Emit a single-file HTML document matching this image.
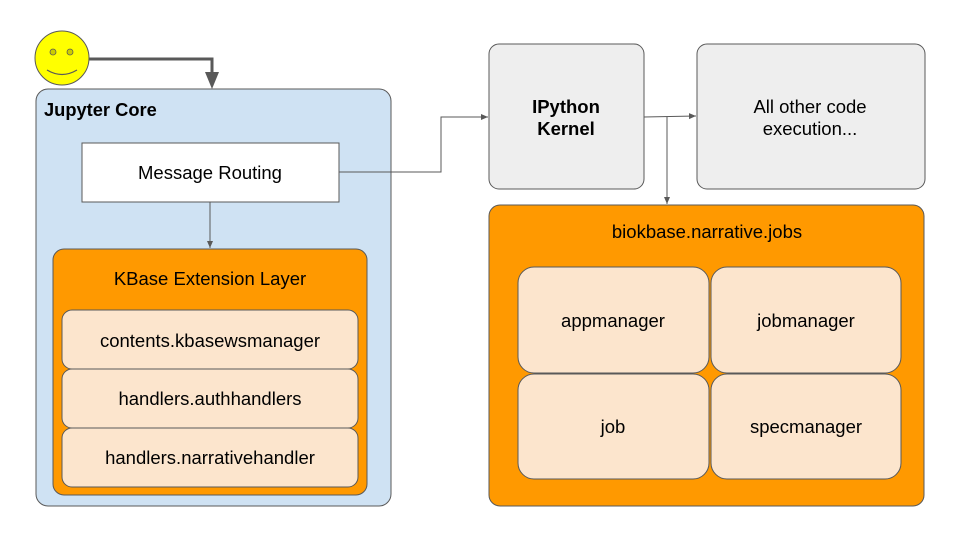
<!DOCTYPE html>
<html><head><meta charset="utf-8"><style>html,body{margin:0;padding:0;background:#fff}svg{display:block}</style></head>
<body>
<svg width="960" height="540" viewBox="0 0 960 540" xmlns="http://www.w3.org/2000/svg" font-family="Liberation Sans, Arial, sans-serif">
<defs>
<marker id="a" markerWidth="8" markerHeight="8" refX="7" refY="4" orient="auto" markerUnits="userSpaceOnUse"><path d="M0,1 L7,4 L0,7 z" fill="#595959"/></marker>
</defs>
<rect x="36" y="89" width="355" height="417" rx="12" fill="#cfe2f3" stroke="#595959"/>
<text x="44" y="116" font-size="18.3" font-weight="bold" fill="#000">Jupyter Core</text>
<rect x="82" y="143" width="257" height="59" fill="#fff" stroke="#595959"/>
<text x="210" y="179" font-size="18.5" text-anchor="middle">Message Routing</text>
<line x1="210" y1="202" x2="210" y2="248" stroke="#595959" marker-end="url(#a)"/>
<rect x="53" y="249" width="314" height="246" rx="11" fill="#ff9900" stroke="#595959"/>
<text x="210" y="285" font-size="18.5" text-anchor="middle">KBase Extension Layer</text>
<rect x="62" y="310" width="296" height="59" rx="10" fill="#fce5cd" stroke="#595959"/>
<text x="210" y="347" font-size="18.5" text-anchor="middle">contents.kbasewsmanager</text>
<rect x="62" y="369" width="296" height="59" rx="10" fill="#fce5cd" stroke="#595959"/>
<text x="210" y="405" font-size="18.5" text-anchor="middle">handlers.authhandlers</text>
<rect x="62" y="428" width="296" height="59" rx="10" fill="#fce5cd" stroke="#595959"/>
<text x="210" y="464" font-size="18.5" text-anchor="middle">handlers.narrativehandler</text>
<polyline points="88,59 212,59 212,74" fill="none" stroke="#595959" stroke-width="3"/>
<path d="M205,72 L219,72 L212,89 z" fill="#595959"/>
<circle cx="62" cy="58" r="27" fill="#ffff00" stroke="#595959"/>
<circle cx="53" cy="52" r="3" fill="#cccc00" stroke="#595959" stroke-width="0.8"/>
<circle cx="70" cy="52" r="3" fill="#cccc00" stroke="#595959" stroke-width="0.8"/>
<path d="M47,70 Q62,79 77,70" fill="none" stroke="#595959" stroke-width="1.2"/>
<polyline points="339,172 441,172 441,117 488,117" fill="none" stroke="#595959" marker-end="url(#a)"/>
<line x1="644" y1="117" x2="696" y2="116" stroke="#595959" marker-end="url(#a)"/>
<line x1="667" y1="117" x2="667" y2="204" stroke="#595959" marker-end="url(#a)"/>
<rect x="489" y="44" width="155" height="145" rx="10" fill="#eeeeee" stroke="#595959"/>
<text x="566" y="113" font-size="18.5" font-weight="bold" text-anchor="middle">IPython</text>
<text x="566" y="135" font-size="18.5" font-weight="bold" text-anchor="middle">Kernel</text>
<rect x="697" y="44" width="228" height="145" rx="10" fill="#eeeeee" stroke="#595959"/>
<text x="810" y="113" font-size="18.5" text-anchor="middle">All other code</text>
<text x="810" y="135" font-size="18.5" text-anchor="middle">execution...</text>
<rect x="489" y="205" width="435" height="301" rx="11" fill="#ff9900" stroke="#595959"/>
<text x="707" y="238" font-size="18.5" text-anchor="middle">biokbase.narrative.jobs</text>
<rect x="518" y="267" width="191" height="106" rx="16" fill="#fce5cd" stroke="#595959"/>
<text x="613" y="327" font-size="18.5" text-anchor="middle">appmanager</text>
<rect x="711" y="267" width="190" height="106" rx="16" fill="#fce5cd" stroke="#595959"/>
<text x="806" y="327" font-size="18.5" text-anchor="middle">jobmanager</text>
<rect x="518" y="374" width="191" height="105" rx="16" fill="#fce5cd" stroke="#595959"/>
<text x="613" y="433" font-size="18.5" text-anchor="middle">job</text>
<rect x="711" y="374" width="190" height="105" rx="16" fill="#fce5cd" stroke="#595959"/>
<text x="806" y="433" font-size="18.5" text-anchor="middle">specmanager</text>
</svg>
</body></html>
